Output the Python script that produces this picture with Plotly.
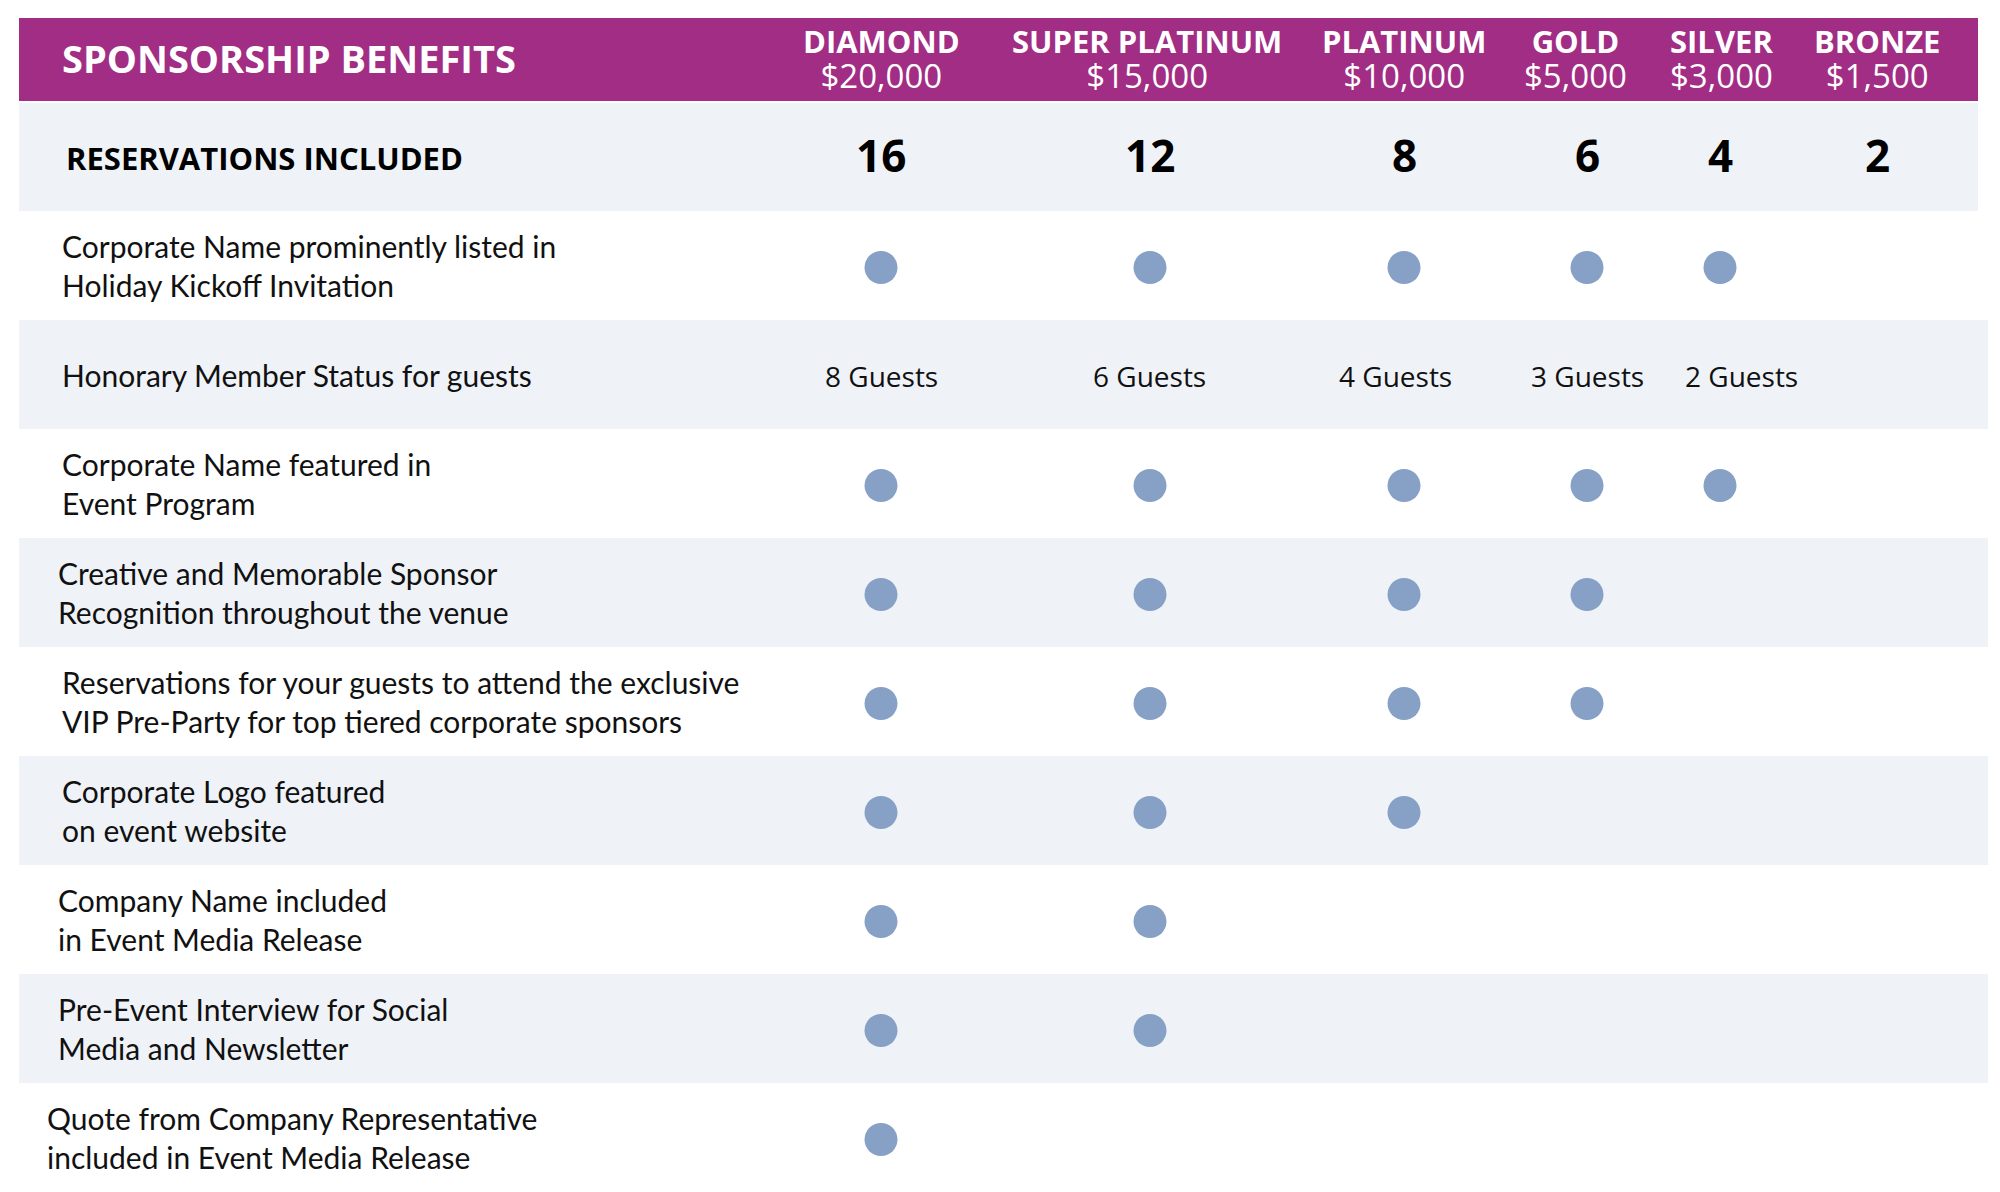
import plotly.graph_objects as go

# ---- data ----
tiers = ["DIAMOND", "SUPER PLATINUM", "PLATINUM", "GOLD", "SILVER", "BRONZE"]
prices = ["$20,000", "$15,000", "$10,000", "$5,000", "$3,000", "$1,500"]
reservations = [16, 12, 8, 6, 4, 2]

benefits = [
    "Corporate Name prominently listed in<br>Holiday Kickoff Invitation",
    "Honorary Member Status for guests",
    "Corporate Name featured in<br>Event Program",
    "Creative and Memorable Sponsor<br>Recognition throughout the venue",
    "Reservations for your guests to attend the exclusive<br>VIP Pre-Party for top tiered corporate sponsors",
    "Corporate Logo featured<br>on event website",
    "Company Name included<br>in Event Media Release",
    "Pre-Event Interview for Social<br>Media and Newsletter",
    "Quote from Company Representative<br>included in Event Media Release",
]
guests = [8, 6, 4, 3, 2, None]
guest_row = 1
# 1 = benefit included for that tier
included = [
    [1, 1, 1, 1, 1, 0],
    None,
    [1, 1, 1, 1, 1, 0],
    [1, 1, 1, 1, 0, 0],
    [1, 1, 1, 1, 0, 0],
    [1, 1, 1, 0, 0, 0],
    [1, 1, 0, 0, 0, 0],
    [1, 1, 0, 0, 0, 0],
    [1, 0, 0, 0, 0, 0],
]

# ---- layout constants ----
W, H = 2000, 1192
OFF = 8  # page body margin
col_x = [881, 1150, 1404, 1587, 1720, 1877]
head_x = [881, 1147, 1404, 1575, 1721, 1877]
guest_x = [881, 1149, 1395, 1587, 1741]
label_x = [60, 60, 60, 56, 60, 60, 56, 56, 45]
row_top, row_h = 211, 109
purple = "#a12d84"
band = "#eff3f8"
dot = "#87a0c6"
body_font = "Lato"
head_font = "Open Sans"


def row_mid(i):
    return row_top + row_h * i + row_h / 2


fig = go.Figure()

shapes = [
    dict(type="rect", x0=19, x1=1978, y0=18, y1=101, fillcolor=purple, line_width=0, layer="below"),
    dict(type="rect", x0=19, x1=1978, y0=103, y1=211, fillcolor=band, line_width=0, layer="below"),
]
for i in range(len(benefits)):
    if i % 2 == 1:
        shapes.append(dict(type="rect", x0=19, x1=1988,
                           y0=row_top + row_h * i, y1=row_top + row_h * (i + 1),
                           fillcolor=band, line_width=0, layer="below"))

ann = [dict(x=60, y=58, text="<b>SPONSORSHIP BENEFITS</b>", showarrow=False,
            xanchor="left", yanchor="middle",
            font=dict(family=head_font, size=38, color="white"))]
for x, t, p in zip(head_x, tiers, prices):
    txt = ("<span style='font-size:31px'><b>" + t + "</b></span><br>"
           "<span style='font-size:33px'>" + p + "</span>")
    ann.append(dict(x=x, y=59, text=txt, showarrow=False,
                    xanchor="center", yanchor="middle", align="center",
                    font=dict(family=head_font, size=27, color="white")))

ann.append(dict(x=64, y=158, text="<b>RESERVATIONS INCLUDED</b>", showarrow=False,
                xanchor="left", yanchor="middle",
                font=dict(family=head_font, size=31, color="black")))
for x, r in zip(col_x, reservations):
    ann.append(dict(x=x, y=155, text="<b>%d</b>" % r, showarrow=False,
                    xanchor="center", yanchor="middle",
                    font=dict(family=head_font, size=44, color="black")))

for i, b in enumerate(benefits):
    ann.append(dict(x=label_x[i], y=row_mid(i), text=b, showarrow=False,
                    xanchor="left", yanchor="middle", align="left",
                    font=dict(family=body_font, size=30, color="#111111")))

for x, g in zip(guest_x, guests):
    if g is None:
        continue
    ann.append(dict(x=x, y=row_mid(guest_row) + 1, text="%d Guests" % g, showarrow=False,
                    xanchor="center", yanchor="middle",
                    font=dict(family=head_font, size=28, color="#111111")))

dx, dy = [], []
for i, row in enumerate(included):
    if row is None:
        continue
    for j, v in enumerate(row):
        if v:
            dx.append(col_x[j])
            dy.append(row_mid(i) + 2)

fig.add_trace(go.Scatter(x=dx, y=dy, mode="markers", hoverinfo="skip",
                         marker=dict(size=33, color=dot, line_width=0)))

fig.update_layout(width=W - 2 * OFF, height=H - 2 * OFF, autosize=False,
                  margin=dict(l=0, r=0, t=0, b=0, pad=0),
                  paper_bgcolor="white", plot_bgcolor="white",
                  showlegend=False, shapes=shapes, annotations=ann,
                  xaxis=dict(range=[OFF, W - OFF], visible=False, fixedrange=True),
                  yaxis=dict(range=[H - OFF, OFF], visible=False, fixedrange=True))

fig.write_html("out.html", config=dict(displayModeBar=False))
